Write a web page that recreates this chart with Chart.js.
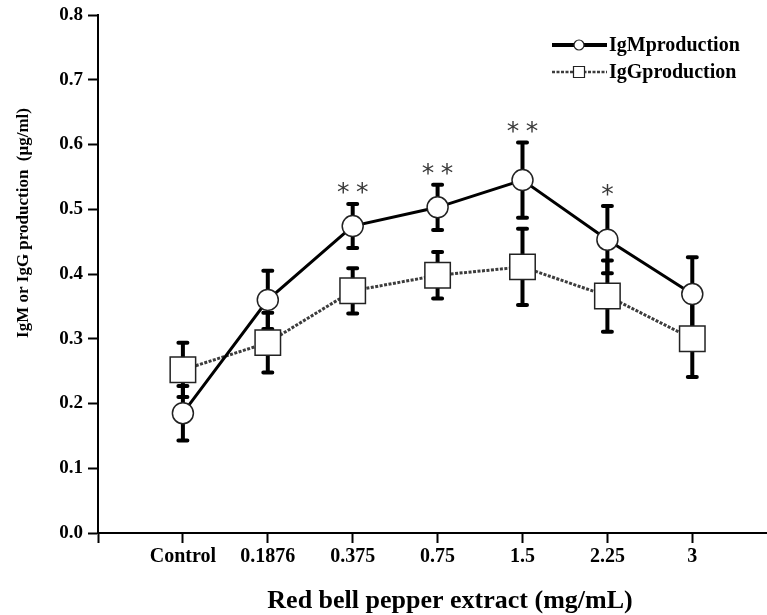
<!DOCTYPE html>
<html>
<head>
<meta charset="utf-8">
<script src="https://cdn.jsdelivr.net/npm/chart.js@4"></script>
<style>
  html, body { margin: 0; padding: 0; background: #fff; }
  #wrap { width: 767px; height: 615px; }
</style>
</head>
<body>
<div id="wrap"><canvas id="chart" width="767" height="615"></canvas></div>
<script>
// Data
const categories = ['Control', '0.1876', '0.375', '0.75', '1.5', '2.25', '3'];
const igmMean = [0.185, 0.360, 0.474, 0.503, 0.545, 0.453, 0.369];
const igmErr  = [0.042, 0.045, 0.034, 0.035, 0.058, 0.052, 0.057];
const iggMean = [0.252, 0.294, 0.374, 0.398, 0.411, 0.366, 0.300];
const iggErr  = [0.042, 0.046, 0.035, 0.036, 0.059, 0.055, 0.059];
const significance = ['', '', '**', '**', '**', '*', ''];
const yTickValues = [0, 0.1, 0.2, 0.3, 0.4, 0.5, 0.6, 0.7, 0.8];

const SERIF = '"Liberation Serif", "Times New Roman", serif';
const tickFont = { family: SERIF, weight: 'bold', size: 20 };

// error bars, behind the markers
const errorBars = {
    id: 'errorBars',
    beforeDatasetsDraw(chart) {
        const { ctx, scales: { x, y } } = chart;
        ctx.save();
        ctx.strokeStyle = '#000';
        chart.data.datasets.forEach(ds => {
            ds.data.forEach((p, i) => {
                const px = x.getPixelForValue(p.x);
                const top = y.getPixelForValue(p.y + ds.errors[i]);
                const bot = y.getPixelForValue(p.y - ds.errors[i]);
                ctx.lineWidth = 4;
                ctx.lineCap = 'butt';
                ctx.beginPath();
                ctx.moveTo(px, top);
                ctx.lineTo(px, bot);
                ctx.stroke();
                ctx.lineCap = 'round';
                ctx.beginPath();
                ctx.moveTo(px - 4.5, top); ctx.lineTo(px + 4.5, top);
                ctx.moveTo(px - 4.5, bot); ctx.lineTo(px + 4.5, bot);
                ctx.stroke();
            });
        });
        ctx.restore();
    }
};

// asterisks above the IgM error bars
const stars = {
    id: 'stars',
    afterDatasetsDraw(chart) {
        const { ctx, scales: { x, y } } = chart;
        ctx.save();
        ctx.fillStyle = '#3a3a3a';
        ctx.font = '25px "DejaVu Sans"';
        ctx.textAlign = 'center';
        ctx.textBaseline = 'alphabetic';
        const m = ctx.measureText('*');
        const shift = (m.actualBoundingBoxAscent - m.actualBoundingBoxDescent) / 2;
        significance.forEach((s, i) => {
            if (!s) return;
            const px = x.getPixelForValue(i);
            const cy = y.getPixelForValue(igmMean[i] + igmErr[i]) - 16;
            const gap = 19;
            for (let k = 0; k < s.length; k++) {
                const sx = px + (k - (s.length - 1) / 2) * gap;
                ctx.fillText('*', sx, cy + shift);
            }
        });
        ctx.restore();
    }
};

// legend + axis titles
const decorations = {
    id: 'decorations',
    afterDraw(chart) {
        const { ctx } = chart;
        ctx.save();
        // legend
        chart.data.datasets.forEach((ds, i) => {
            const ly = 45 + i * 27;
            ctx.strokeStyle = ds.borderColor;
            ctx.lineWidth = i === 0 ? 4 : 2.5;
            ctx.setLineDash(ds.borderDash || []);
            ctx.beginPath();
            ctx.moveTo(552, ly);
            ctx.lineTo(607, ly);
            ctx.stroke();
            ctx.setLineDash([]);
            ctx.fillStyle = '#fff';
            ctx.strokeStyle = '#222';
            ctx.lineWidth = 1.2;
            ctx.beginPath();
            if (ds.pointStyle === 'circle') {
                ctx.arc(579, ly, 5, 0, Math.PI * 2);
            } else {
                ctx.rect(573.5, ly - 5.5, 11, 11);
            }
            ctx.fill();
            ctx.stroke();
            ctx.fillStyle = '#000';
            ctx.font = 'bold 20px ' + SERIF;
            ctx.textAlign = 'left';
            ctx.textBaseline = 'middle';
            ctx.fillText(ds.label, 609, ly + 1);
        });

        // x title
        ctx.fillStyle = '#000';
        ctx.font = 'bold 26px ' + SERIF;
        ctx.textAlign = 'center';
        ctx.textBaseline = 'middle';
        ctx.fillText('Red bell pepper extract (mg/mL)', 450, 601);

        // y title
        ctx.save();
        ctx.translate(24, 223);
        ctx.rotate(-Math.PI / 2);
        ctx.font = 'bold 17px ' + SERIF;
        ctx.fillText('IgM or IgG production  (\u03bcg/ml)', 0, 0);
        ctx.restore();
        ctx.restore();
    }
};

const chart = new Chart(document.getElementById('chart').getContext('2d'), {
    type: 'line',
    data: {
        datasets: [
            {
                label: 'IgMproduction',
                data: igmMean.map((v, i) => ({ x: i, y: v })),
                errors: igmErr,
                borderColor: '#000',
                borderWidth: 3,
                pointStyle: 'circle',
                pointRadius: 10.5,
                pointBackgroundColor: '#fff',
                pointBorderColor: '#222',
                pointBorderWidth: 1.5,
                tension: 0
            },
            {
                label: 'IgGproduction',
                data: iggMean.map((v, i) => ({ x: i, y: v })),
                errors: iggErr,
                borderColor: '#3c3c3c',
                borderWidth: 3,
                borderDash: [3, 1.5],
                pointStyle: 'rect',
                pointRadius: 18,
                pointBackgroundColor: '#fff',
                pointBorderColor: '#222',
                pointBorderWidth: 1.5,
                tension: 0
            }
        ]
    },
    options: {
        responsive: false,
        animation: false,
        layout: { autoPadding: false, padding: { top: 15, left: 0, right: 0, bottom: 0 } },
        plugins: { legend: { display: false }, tooltip: { enabled: false } },
        scales: {
            x: {
                type: 'linear',
                min: -1,
                max: 6.88,
                afterBuildTicks: s => { s.ticks = [-1, ...categories.map((_, i) => i)].map(v => ({ value: v })); },
                afterFit: s => { s.height = 82; s.paddingLeft = 0; s.paddingRight = 0; },
                ticks: {
                    callback: v => categories[v] ?? '',
                    font: tickFont,
                    color: '#000',
                    padding: 2,
                    autoSkip: false,
                    maxRotation: 0
                },
                grid: { drawOnChartArea: false, drawTicks: true, tickLength: 10, tickWidth: 2, tickColor: '#000' },
                border: { display: true, color: '#000', width: 2 }
            },
            y: {
                min: 0,
                max: 0.8,
                afterBuildTicks: s => { s.ticks = yTickValues.map(v => ({ value: v })); },
                afterFit: s => { s.width = 98; s.paddingTop = 0; s.paddingBottom = 0; },
                ticks: {
                    callback: v => v.toFixed(1),
                    font: { family: SERIF, weight: 'bold', size: 19 },
                    color: '#000',
                    padding: 5
                },
                grid: { drawOnChartArea: false, drawTicks: true, tickLength: 10, tickWidth: 2, tickColor: '#000' },
                border: { display: true, color: '#000', width: 2 }
            }
        }
    },
    plugins: [errorBars, stars, decorations]
});
</script>
</body>
</html>
